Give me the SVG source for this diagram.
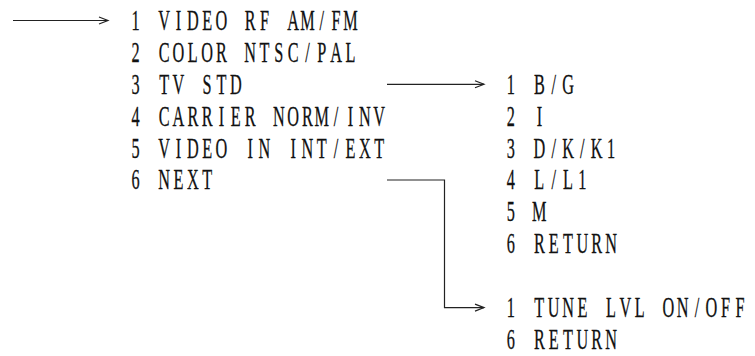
<svg xmlns="http://www.w3.org/2000/svg" width="755" height="356" viewBox="0 0 755 356">
<defs>
<style>
.t{font-family:"Liberation Serif","Times New Roman",serif;font-size:29px;fill:#111;stroke:#111;stroke-width:0.3;text-anchor:middle;white-space:pre}
.c{fill:none;stroke:#222;stroke-width:1.2}
</style>
<marker id="ah" markerWidth="12" markerHeight="10" refX="10" refY="5" orient="auto" markerUnits="userSpaceOnUse">
<path d="M1,1.5 L10,5 L1,8.5" fill="none" stroke="#222" stroke-width="1.2"/>
</marker>
</defs>
<rect width="755" height="356" fill="#fff"/>
<g id="connectors">
<path class="c" d="M13,20.5 H108" marker-end="url(#ah)"/>
<path class="c" d="M387,84.3 H484" marker-end="url(#ah)"/>
<path class="c" d="M387,180 H444.5 V307.6 H484" marker-end="url(#ah)"/>
</g>
<g transform="scale(0.56,1)">
<g id="menu-main">
<text class="t" x="242 267.6 293.1 318.7 344.3 369.9 395.5 421.1 446.7 472.3 497.9 523.5 549 574.6 600.2 625.8 651.4 677" y="30">1 VIDEO RF AM/FM</text>
<text class="t" x="242 267.6 293.1 318.7 344.3 369.9 395.5 421.1 446.7 472.3 497.9 523.5 549 574.6 600.2 625.8 651.4 677" y="61.9">2 COLOR NTSC/PAL</text>
<text class="t" x="242 267.6 293.1 318.7 344.3 369.9 395.5 421.1 446.7 472.3 497.9 523.5 549 574.6 600.2 625.8 651.4 677" y="93.8">3 TV STD</text>
<text class="t" x="242 267.6 293.1 318.7 344.3 369.9 395.5 421.1 446.7 472.3 497.9 523.5 549 574.6 600.2 625.8 651.4 677" y="125.7">4 CARRIER NORM/INV</text>
<text class="t" x="242 267.6 293.1 318.7 344.3 369.9 395.5 421.1 446.7 472.3 497.9 523.5 549 574.6 600.2 625.8 651.4 677" y="157.6">5 VIDEO IN INT/EXT</text>
<text class="t" x="242 267.6 293.1 318.7 344.3 369.9 395.5 421.1 446.7 472.3 497.9 523.5 549 574.6 600.2 625.8 651.4 677" y="189.5">6 NEXT</text>
</g>
<g id="menu-tvstd">
<text class="t" x="912 937.6 963.1 988.7 1014.3 1039.9 1065.5 1091.1 1116.7 1142.3 1167.9 1193.5 1219 1244.6 1270.2 1295.8 1321.4" y="93.8">1 B/G</text>
<text class="t" x="912 937.6 963.1 988.7 1014.3 1039.9 1065.5 1091.1 1116.7 1142.3 1167.9 1193.5 1219 1244.6 1270.2 1295.8 1321.4" y="125.7">2 I</text>
<text class="t" x="912 937.6 963.1 988.7 1014.3 1039.9 1065.5 1091.1 1116.7 1142.3 1167.9 1193.5 1219 1244.6 1270.2 1295.8 1321.4" y="157.6">3 D/K/K1</text>
<text class="t" x="912 937.6 963.1 988.7 1014.3 1039.9 1065.5 1091.1 1116.7 1142.3 1167.9 1193.5 1219 1244.6 1270.2 1295.8 1321.4" y="189.5">4 L/L1</text>
<text class="t" x="912 937.6 963.1 988.7 1014.3 1039.9 1065.5 1091.1 1116.7 1142.3 1167.9 1193.5 1219 1244.6 1270.2 1295.8 1321.4" y="221.4">5 M</text>
<text class="t" x="912 937.6 963.1 988.7 1014.3 1039.9 1065.5 1091.1 1116.7 1142.3 1167.9 1193.5 1219 1244.6 1270.2 1295.8 1321.4" y="253.3">6 RETURN</text>
</g>
<g id="menu-next">
<text class="t" x="912 937.6 963.1 988.7 1014.3 1039.9 1065.5 1091.1 1116.7 1142.3 1167.9 1193.5 1219 1244.6 1270.2 1295.8 1321.4" y="317.1">1 TUNE LVL ON/OFF</text>
<text class="t" x="912 937.6 963.1 988.7 1014.3 1039.9 1065.5 1091.1 1116.7 1142.3 1167.9 1193.5 1219 1244.6 1270.2 1295.8 1321.4" y="349">6 RETURN</text>
</g>
</g>
</svg>
